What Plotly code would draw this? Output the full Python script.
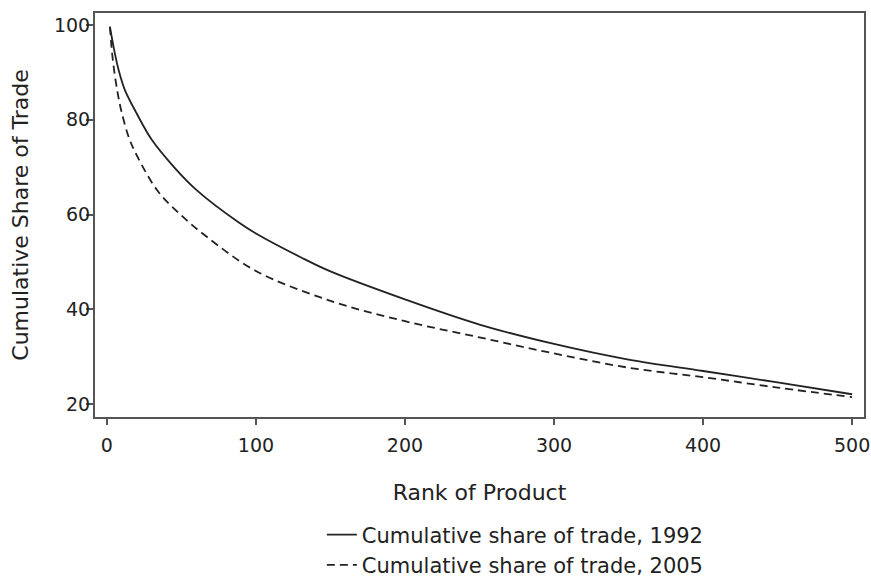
import plotly.graph_objects as go

rank_1992 = [2, 5, 8, 12, 20, 30, 45, 60, 89, 100, 130, 150, 200, 250, 300, 350, 400, 450, 500]
share_1992 = [99.6, 94.5, 90.3, 86.3, 81.3, 75.8, 70.0, 65.2, 58.2, 56.0, 51.0, 48.0, 42.1, 36.8, 32.7, 29.4, 27.0, 24.6, 22.1]

rank_2005 = [2, 4, 7, 10, 15, 20, 34, 50, 67, 100, 150, 200, 250, 300, 350, 400, 450, 500]
share_2005 = [99.6, 92.5, 86.0, 81.4, 76.0, 72.5, 65.0, 59.8, 55.3, 48.1, 41.8, 37.5, 34.1, 30.7, 27.7, 25.7, 23.5, 21.5]

x_ticks = [0, 100, 200, 300, 400, 500]
y_ticks = [20, 40, 60, 80, 100]

font_family = "DejaVu Sans, Liberation Sans, Arial, sans-serif"
ink = "#222222"
axis_col = "#555555"

fig = go.Figure()
fig.add_trace(go.Scatter(
    x=rank_1992, y=share_1992, mode="lines", line_shape="spline",
    name="Cumulative share of trade, 1992",
    line=dict(color=ink, width=1.8)))
fig.add_trace(go.Scatter(
    x=rank_2005, y=share_2005, mode="lines", line_shape="spline",
    name="Cumulative share of trade, 2005",
    line=dict(color=ink, width=1.8, dash="8px,5px")))

fig.update_layout(
    width=871, height=580,
    margin=dict(l=95, r=7, t=13, b=163, autoexpand=False),
    paper_bgcolor="white", plot_bgcolor="white",
    font=dict(family=font_family, size=19, color=ink),
    showlegend=True,
    legend=dict(x=0.295, xref="paper", y=0.113, yref="container",
                xanchor="left", yanchor="top",
                orientation="v", font=dict(size=21), tracegroupgap=0,
                bgcolor="rgba(0,0,0,0)"),
    xaxis=dict(range=[-8, 508], tickvals=x_ticks, ticks="outside", ticklen=6,
               tickwidth=1.5, tickcolor=axis_col, showgrid=False, zeroline=False,
               showline=True, linecolor=axis_col, linewidth=2, mirror=True,
               ticklabelstandoff=4,
               title=dict(text="Rank of Product", standoff=30, font=dict(size=22)),
               tickfont=dict(size=19)),
    yaxis=dict(range=[17.3, 102.5], tickvals=y_ticks, ticks="outside", ticklen=7,
               tickwidth=1.5, tickcolor=axis_col, showgrid=False, zeroline=False,
               showline=True, linecolor=axis_col, linewidth=2, mirror=True,
               ticklabelstandoff=-8,
               title=dict(text="Cumulative Share of Trade", standoff=19, font=dict(size=22)),
               tickfont=dict(size=19)),
)

fig.write_html("out.html")
